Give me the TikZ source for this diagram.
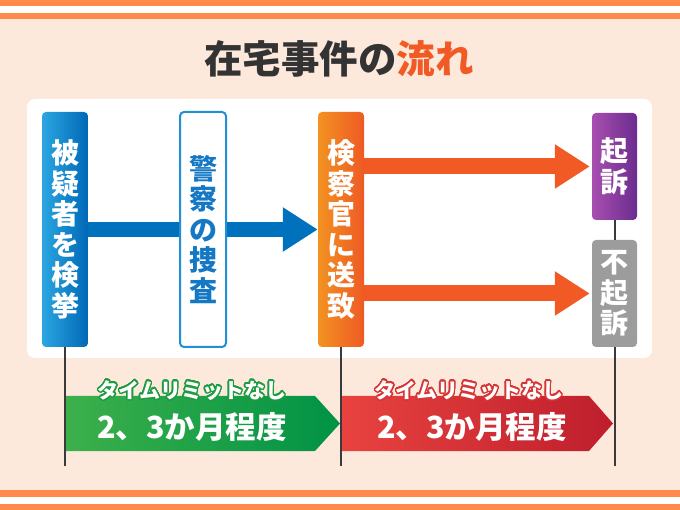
\documentclass[tikz,border=0pt]{standalone}
\usepackage{fontspec}
\setmainfont{Noto Sans CJK JP}
\usepackage{contour}
\contourlength{1.3pt}
\contournumber{32}
\usetikzlibrary{arrows.meta}
\definecolor{bgpeach}{HTML}{FDE9DB}
\definecolor{stripe}{HTML}{FF8A4B}
\definecolor{titlegray}{HTML}{333333}
\definecolor{titleorange}{HTML}{F15A24}
\definecolor{blueL}{HTML}{2CA6E0}
\definecolor{blueR}{HTML}{0068B7}
\definecolor{box2border}{HTML}{1F8FD6}
\definecolor{box2text}{HTML}{1478C4}
\definecolor{bluearrowc}{HTML}{0071BC}
\definecolor{orangeL}{HTML}{F39222}
\definecolor{orangeR}{HTML}{EE5A24}
\definecolor{orangearrowc}{HTML}{F15A24}
\definecolor{purpleL}{HTML}{A84FB0}
\definecolor{purpleR}{HTML}{6B2C8F}
\definecolor{grayc}{HTML}{9C9C9C}
\definecolor{greenL}{HTML}{3DB04B}
\definecolor{greenR}{HTML}{009245}
\definecolor{greenD}{HTML}{1E9A40}
\definecolor{redL}{HTML}{E8433F}
\definecolor{redR}{HTML}{BE1E2D}
\definecolor{redD}{HTML}{D73535}
\definecolor{linec}{HTML}{3A3A3A}
\begin{document}
\begin{tikzpicture}[x=1pt,y=-1pt,
  vbox/.style={rounded corners=4pt, minimum width=46pt, minimum height=235pt, inner sep=0pt,
    text=white, align=center, font=\fontsize{28}{30.5}\selectfont\bfseries},
  sbox/.style={vbox, minimum width=45pt, minimum height=107pt},
  bigarrow/.style={line width=15pt, -{Triangle[length=35pt,width=42pt]}},
  vline/.style={draw=linec, line width=2pt},
  bantop/.style={text=white, font=\fontsize{21}{23}\selectfont\bfseries, inner sep=0pt},
  banmain/.style={text=white, font=\fontsize{30.5}{33}\selectfont\bfseries, inner sep=0pt}
]
\useasboundingbox (0,0) rectangle (680,510);
\fill[bgpeach] (0,0) rectangle (680,510);
% stripes
\fill[stripe] (0,0) rectangle (680,6);
\fill[white] (0,6) rectangle (680,13);
\fill[stripe] (0,13) rectangle (680,19.5);
\fill[stripe] (0,490) rectangle (680,496.5);
\fill[white] (0,496.5) rectangle (680,503.5);
\fill[stripe] (0,503.5) rectangle (680,510);
% title
\node[font=\fontsize{38.5}{41}\selectfont\bfseries, text=titlegray] (title) at (339,58.5)
  {在宅事件の\textcolor{titleorange}{流れ}};
% panel
\fill[white, rounded corners=8pt] (27,99) rectangle (652,358);
% boxes
\node[vbox, left color=blueL, right color=blueR] (b1) at (65,229.5) {被\\疑\\者\\を\\検\\挙};
\node[vbox, left color=orangeL, right color=orangeR] (b3) at (341,229.5) {検\\察\\官\\に\\送\\致};
\node[sbox, left color=purpleL, right color=purpleR] (b4) at (614.5,166.5) {起\\訴};
\node[sbox, fill=grayc] (b5) at (614.5,293.5) {不\\起\\訴};
% arrows
\draw[bigarrow, draw=bluearrowc] (b1.east) -- (b3.west);
\draw[bigarrow, draw=orangearrowc, line width=16pt, shorten >=2pt] (b3.east |- b4.west) -- (b4.west);
\draw[bigarrow, draw=orangearrowc, line width=16pt, shorten >=2pt] (b3.east |- b5.west) -- (b5.west);
\node[vbox, draw=box2border, line width=2pt, fill=white, text=box2text] (b2) at (203,229.5) {警\\察\\の\\捜\\査};
% banners
\shade[left color=greenL, right color=greenR] (65,396) -- (315,396) -- (340,423.5) -- (315,451) -- (65,451) -- cycle;
\shade[left color=redL, right color=redR] (341,396) -- (589,396) -- (613,423.5) -- (589,451) -- (341,451) -- cycle;
\node[bantop] (gt) at (192,391) {\contour{greenD}{タイムリミットなし}};
\node[banmain] (gm) at (192,427) {2、3か月程度};
\node[bantop] (rt) at (469,391) {\contour{redD}{タイムリミットなし}};
\node[banmain] (rm) at (472,427) {2、3か月程度};
% vertical lines
\coordinate (e1) at (65,466);
\coordinate (e3) at (341,466);
\coordinate (e5) at (614.5,466);
\draw[vline] (b1.south) -- (e1);
\draw[vline] (b3.south) -- (e3);
\draw[vline] (b4.south) -- (b5.north);
\draw[vline] (b5.south) -- (e5);
\end{tikzpicture}
\end{document}
